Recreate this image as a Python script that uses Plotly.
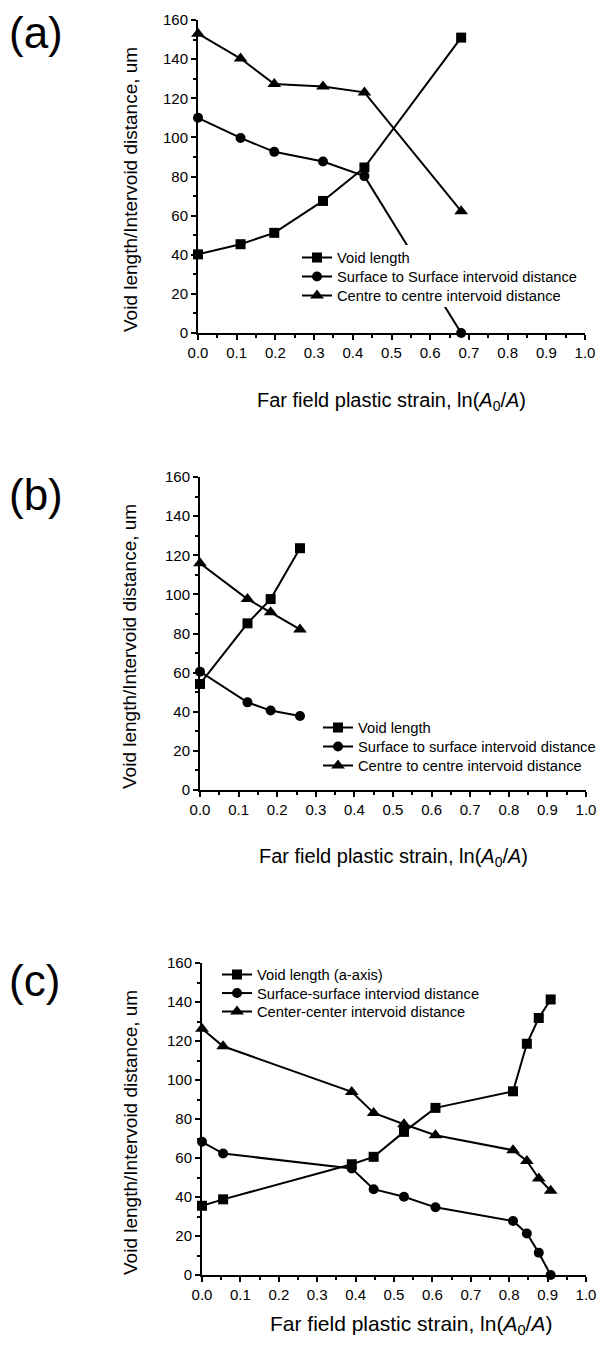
import plotly.graph_objects as go

# Panel (a)
a_strain = [0.0, 0.11, 0.197, 0.323, 0.43, 0.68]
a_void = [40.2, 45.4, 51.2, 67.5, 84.6, 151.0]
a_surface = [110.0, 99.7, 92.6, 87.7, 80.2, 0.0]
a_centre = [153.0, 140.3, 127.3, 126.0, 123.0, 62.3]

# Panel (b)
b_strain = [0.0, 0.123, 0.183, 0.259]
b_void = [54.2, 85.2, 97.6, 123.6]
b_surface = [60.5, 44.8, 40.6, 37.8]
b_centre = [115.9, 97.6, 90.8, 82.1]

# Panel (c)
c_strain = [0.0, 0.055, 0.39, 0.447, 0.526, 0.608, 0.81, 0.846, 0.877, 0.908]
c_void = [35.5, 38.8, 56.8, 60.6, 73.4, 85.7, 94.2, 118.6, 131.8, 141.3]
c_surface = [68.3, 62.3, 54.6, 44.0, 40.1, 34.7, 27.7, 21.3, 11.4, 0.0]
c_centre = [126.3, 117.3, 93.9, 83.1, 77.3, 71.7, 64.0, 58.5, 49.5, 43.2]

a_names = ["Void length", "Surface to Surface intervoid distance",
           "Centre to centre intervoid distance"]
b_names = ["Void length", "Surface to surface intervoid distance",
           "Centre to centre intervoid distance"]
c_names = ["Void length (a-axis)", "Surface-surface interviod distance",
           "Center-center intervoid distance"]

panel_labels = ["(a)", "(b)", "(c)"]
x_title = "Far field plastic strain, ln(<i>A</i><sub>0</sub>/<i>A</i>)"
y_title = "Void length/Intervoid distance, um"
y_ticks = [0, 20, 40, 60, 80, 100, 120, 140, 160]
x_ticks = [0.0, 0.1, 0.2, 0.3, 0.4, 0.5, 0.6, 0.7, 0.8, 0.9, 1.0]

W, H = 601, 1346
FONT = "Liberation Sans, Arial, Helvetica, sans-serif"
symbols = ["square", "circle", "triangle-up"]

panels = [
    (a_strain, [a_void, a_surface, a_centre], a_names),
    (b_strain, [b_void, b_surface, b_centre], b_names),
    (c_strain, [c_void, c_surface, c_centre], c_names),
]

# plot-area pixel boxes (left, right, top, bottom)
boxes = [(198, 585, 20, 333), (200, 586, 477, 790), (202, 586, 963, 1275)]
# legend: left x of text, centre y of first row, row pitch
legend_pos = [(337, 258, 19), (358, 728, 19), (257, 975, 18.5)]
# panel tag centre y, x-title centre (x, y, size), y-title centre (x, y)
label_y = [32, 494, 980]
xtitle_pos = [(391, 401, 20), (393, 858, 20), (411, 1325, 21)]
ytitle_pos = [(131, 190), (129, 647), (130, 1133)]

fig = go.Figure()
layout = dict(
    width=W, height=H,
    margin=dict(l=0, r=0, t=0, b=0, autoexpand=False),
    paper_bgcolor="white", plot_bgcolor="white",
    font=dict(family=FONT, color="black", size=15),
    showlegend=True,
)

annotations = []
n_leg = 0
for i, (xs, series, names) in enumerate(panels):
    k = "" if i == 0 else str(i + 1)
    tx, ty, pitch = legend_pos[i]
    for j, (ys, name, sym) in enumerate(zip(series, names, symbols)):
        n_leg += 1
        leg = "legend" if n_leg == 1 else f"legend{n_leg}"
        fig.add_trace(go.Scatter(
            x=xs, y=ys, name=name, mode="lines+markers",
            line=dict(color="black", width=2),
            marker=dict(symbol=sym, size=10 if sym != "triangle-up" else 12,
                        color="black"),
            xaxis="x" + k, yaxis="y" + k, legend=leg,
            cliponaxis=False,
        ))
        layout[leg] = dict(
            x=(tx - 40) / W, y=1 - (ty + j * pitch) / H,
            xanchor="left", yanchor="middle",
            xref="paper", yref="paper",
            bgcolor="rgba(0,0,0,0)", borderwidth=0,
            font=dict(size=14.7, family=FONT), itemwidth=30,
        )
    l, r, t, b = boxes[i]
    layout["xaxis" + k] = dict(
        domain=[l / W, r / W], range=[0, 1.0], anchor="y" + k,
        tickvals=x_ticks, ticktext=[f"{v:.1f}" for v in x_ticks],
        ticks="outside", ticklen=5, tickwidth=1.5, tickcolor="black",
        minor=dict(tickvals=[v + 0.05 for v in x_ticks[:-1]], ticks="outside",
                   ticklen=3, tickwidth=1.5, tickcolor="black"),
        showline=True, linecolor="black", linewidth=2,
        showgrid=False, zeroline=False, tickfont=dict(size=15),
    )
    layout["yaxis" + k] = dict(
        domain=[1 - b / H, 1 - t / H], range=[0, 160], anchor="x" + k,
        tickvals=y_ticks, ticks="outside", ticklen=5, tickwidth=1.5,
        tickcolor="black",
        minor=dict(tickvals=[v + 10 for v in y_ticks[:-1]], ticks="outside",
                   ticklen=3, tickwidth=1.5, tickcolor="black"),
        showline=True, linecolor="black", linewidth=2,
        showgrid=False, zeroline=False, tickfont=dict(size=15),
    )
    annotations.append(dict(
        text=panel_labels[i], x=7 / W, y=1 - label_y[i] / H,
        xref="paper", yref="paper", xanchor="left", yanchor="middle",
        showarrow=False, font=dict(size=44, family=FONT),
    ))
    xt, yt, fs = xtitle_pos[i]
    annotations.append(dict(
        text=x_title, x=xt / W, y=1 - yt / H,
        xref="paper", yref="paper", xanchor="center", yanchor="middle",
        showarrow=False, font=dict(size=fs, family=FONT),
    ))
    yx, yy = ytitle_pos[i]
    annotations.append(dict(
        text=y_title, x=yx / W, y=1 - yy / H, textangle=-90,
        xref="paper", yref="paper", xanchor="center", yanchor="middle",
        showarrow=False, font=dict(size=19, family=FONT),
    ))

# white backing behind the first panel's key, masking the line beneath it
layout["shapes"] = [dict(
    type="rect", xref="paper", yref="paper", layer="above",
    x0=296 / W, x1=584 / W, y0=1 - 307 / H, y1=1 - 245 / H,
    fillcolor="white", line=dict(width=0),
)]
layout["annotations"] = annotations
fig.update_layout(**layout)
fig.write_html("out.html")
